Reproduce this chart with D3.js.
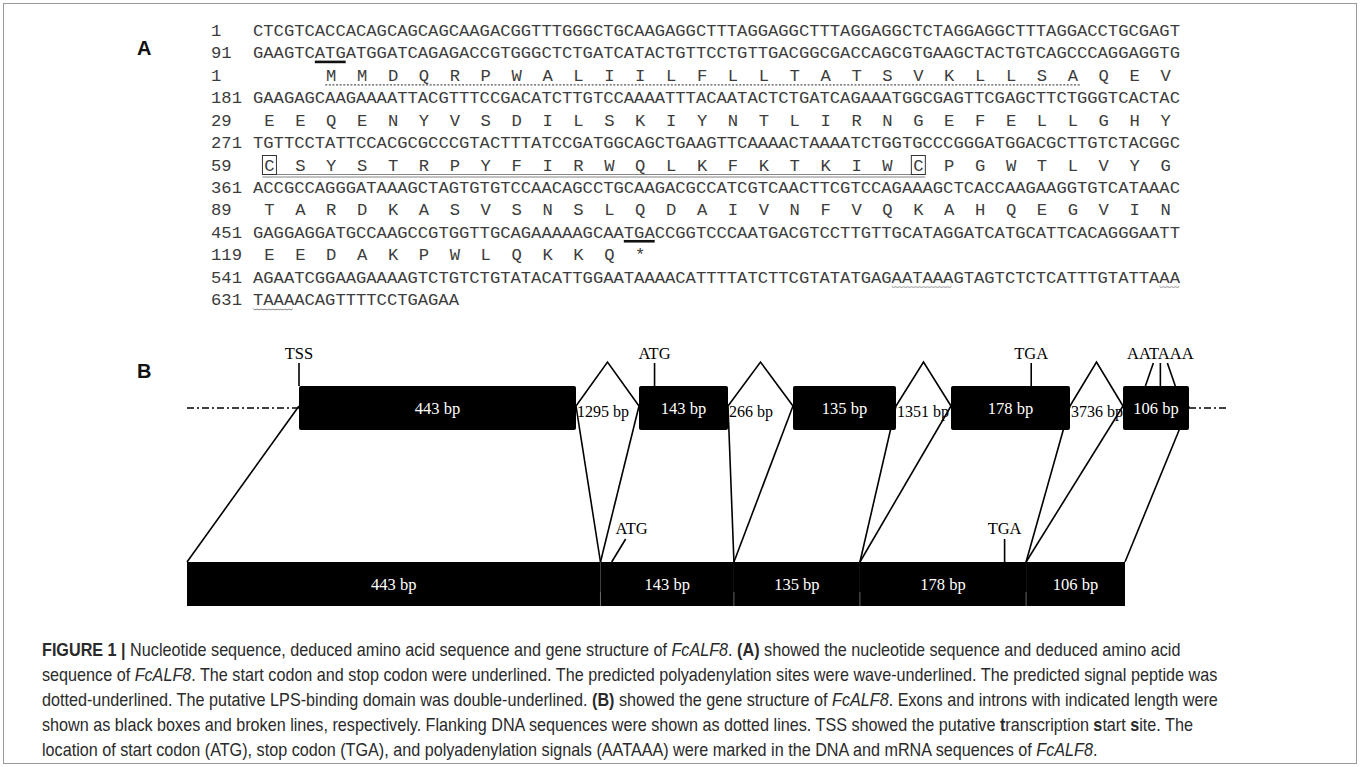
<!DOCTYPE html>
<html>
<head>
<meta charset="utf-8">
<script src="https://cdn.jsdelivr.net/npm/d3@7/dist/d3.min.js"></script>
<style>
  body { margin: 0; background: #fff; }
  svg { display: block; }
</style>
</head>
<body>
<div id="fig"></div>
<script>
// panel A: nucleotide rows
var ntStarts = [1, 91, 181, 271, 361, 451, 541, 631];
var ntSeqs = [
  "CTCGTCACCACAGCAGCAGCAAGACGGTTTGGGCTGCAAGAGGCTTTAGGAGGCTTTAGGAGGCTCTAGGAGGCTTTAGGACCTGCGAGT",
  "GAAGTCATGATGGATCAGAGACCGTGGGCTCTGATCATACTGTTCCTGTTGACGGCGACCAGCGTGAAGCTACTGTCAGCCCAGGAGGTG",
  "GAAGAGCAAGAAAATTACGTTTCCGACATCTTGTCCAAAATTTACAATACTCTGATCAGAAATGGCGAGTTCGAGCTTCTGGGTCACTAC",
  "TGTTCCTATTCCACGCGCCCGTACTTTATCCGATGGCAGCTGAAGTTCAAAACTAAAATCTGGTGCCCGGGATGGACGCTTGTCTACGGC",
  "ACCGCCAGGGATAAAGCTAGTGTGTCCAACAGCCTGCAAGACGCCATCGTCAACTTCGTCCAGAAAGCTCACCAAGAAGGTGTCATAAAC",
  "GAGGAGGATGCCAAGCCGTGGTTGCAGAAAAAGCAATGACCGGTCCCAATGACGTCCTTGTTGCATAGGATCATGCATTCACAGGGAATT",
  "AGAATCGGAAGAAAAGTCTGTCTGTATACATTGGAATAAAACATTTTATCTTCGTATATGAGAATAAAGTAGTCTCTCATTTGTATTAAA",
  "TAAAACAGTTTTCCTGAGAA"
];
// amino acid rows, the nt row each one sits under, and the codon frame
var aaStarts = [1, 29, 59, 89, 119];
var aaSeqs = [
  "MMDQRPWALIILFLLTATSVKLLSAQEV",
  "EEQENYVSDILSKIYNTLIRNGEFELLGHY",
  "CSYSTRPYFIRWQLKFKTKIWCPGWTLVYG",
  "TARDKASVSNSLQDAIVNFVQKAHQEGVIN",
  "EEDAKPWLQKKQ*"
];
var aaUnderNt = [1, 2, 3, 4, 5];
var aaFrame = [6, 0, 0, 0, 0];

// annotations
var codonMarks = [{nt: 1, at: 6, len: 3}, {nt: 5, at: 36, len: 3}];      // ATG, TGA
var polyASites = [{nt: 6, at: 62, len: 6}, {nt: 6, at: 88, len: 2}, {nt: 7, at: 0, len: 4}];
var signalPeptide = {aa: 0, from: 0, to: 24};
var lpsDomain = {aa: 2, from: 0, to: 21};

// panel B: gene structure
var exonBp = [443, 143, 135, 178, 106];
var intronBp = [1295, 266, 1351, 3736];
var topMarks = [{label: "TSS", exon: 0, bp: 0}, {label: "ATG", exon: 1, bp: 25}, {label: "TGA", exon: 3, bp: 120}];
var polyAMarkBp = [36, 60, 84];   // inside the last exon
var mrnaMarks = [{label: "ATG", bp: 455, slant: true}, {label: "TGA", bp: 876, slant: false}];

var W = 1360, H = 767;
var svg = d3.select("#fig").append("svg").attr("width", W).attr("height", H);

svg.append("rect")
  .attr("x", 3.5).attr("y", 3.5).attr("width", W - 7).attr("height", H - 7)
  .attr("fill", "none").attr("stroke", "#9a9a9a").attr("stroke-width", 1);

// ---------- panel A ----------
var mono = "'Liberation Mono', 'Courier New', monospace";
var seqX = d3.scaleLinear().domain([0, 90]).range([253, 1180]);
var rowY = d3.scaleLinear().domain([0, 12]).range([36, 305]);   // baselines

// order the rows: each nt row, followed by the aa row translating it
var lines = [];
ntSeqs.forEach(function(s, j) {
  lines.push({type: "nt", idx: j, label: ntStarts[j], text: s});
  aaUnderNt.forEach(function(n, i) {
    if (n === j) lines.push({type: "aa", idx: i, label: aaStarts[i], text: aaSeqs[i]});
  });
});
lines.forEach(function(d, i) { d.y = rowY(i); });
var ntLine = {}, aaLine = {};
lines.forEach(function(d) { (d.type === "nt" ? ntLine : aaLine)[d.idx] = d; });

function aaX(i, k) { return seqX(aaFrame[i] + 3 * k + 1.5) + 1; }

var gA = svg.append("g").attr("font-family", mono).attr("font-size", 17.2).attr("fill", "#3c3c3c");

svg.append("text").attr("x", 137).attr("y", 55)
  .attr("font-family", "'Liberation Sans', Arial, sans-serif").attr("font-weight", "bold")
  .attr("font-size", 20).attr("fill", "#111").text("A");

gA.selectAll("text.num").data(lines).enter().append("text")
  .attr("class", "num")
  .attr("x", 211).attr("y", function(d) { return d.y; })
  .text(function(d) { return d.label; });

gA.selectAll("text.nt").data(lines.filter(function(d) { return d.type === "nt"; })).enter().append("text")
  .attr("class", "nt")
  .attr("x", seqX(0)).attr("y", function(d) { return d.y; })
  .attr("textLength", function(d) { return seqX(d.text.length) - seqX(0); })
  .attr("lengthAdjust", "spacing")
  .text(function(d) { return d.text; });

lines.filter(function(d) { return d.type === "aa"; }).forEach(function(row) {
  gA.selectAll(null).data(row.text.split("")).enter().append("text")
    .attr("x", function(c, k) { return aaX(row.idx, k); })
    .attr("y", row.y)
    .attr("text-anchor", "middle")
    .text(function(c) { return c; });
});

// start / stop codons
svg.selectAll("line.codon").data(codonMarks).enter().append("line")
  .attr("x1", function(d) { return seqX(d.at); })
  .attr("x2", function(d) { return seqX(d.at + d.len); })
  .attr("y1", function(d) { return ntLine[d.nt].y + 3.5; })
  .attr("y2", function(d) { return ntLine[d.nt].y + 3.5; })
  .attr("stroke", "#111").attr("stroke-width", 2.6);

// polyadenylation sites: wavy underline
function wave(x0, x1, y) {
  var pts = [], step = 2, up = true;
  for (var x = x0; x <= x1 + 0.01; x += step) { pts.push([x, y + (up ? -1 : 1)]); up = !up; }
  return d3.line().curve(d3.curveBasis)(pts);
}
svg.selectAll("path.polyA").data(polyASites).enter().append("path")
  .attr("d", function(d) { return wave(seqX(d.at), seqX(d.at + d.len), ntLine[d.nt].y + 4.5); })
  .attr("fill", "none").attr("stroke", "#8a8a8a").attr("stroke-width", 1);

// signal peptide: dotted underline
var sp = aaLine[signalPeptide.aa];
svg.append("line")
  .attr("x1", aaX(signalPeptide.aa, signalPeptide.from) - 6)
  .attr("x2", aaX(signalPeptide.aa, signalPeptide.to) + 7)
  .attr("y1", sp.y + 4).attr("y2", sp.y + 4)
  .attr("stroke", "#555").attr("stroke-width", 1.3).attr("stroke-dasharray", "2,1.6");

// LPS-binding domain: double underline and boxed cysteines
var lp = aaLine[lpsDomain.aa];
[4, 6.5].forEach(function(dy) {
  svg.append("line")
    .attr("x1", aaX(lpsDomain.aa, lpsDomain.from) - 7)
    .attr("x2", aaX(lpsDomain.aa, lpsDomain.to) + 7)
    .attr("y1", lp.y + dy).attr("y2", lp.y + dy)
    .attr("stroke", "#777").attr("stroke-width", 0.9);
});
svg.selectAll("rect.cys").data([lpsDomain.from, lpsDomain.to]).enter().append("rect")
  .attr("x", function(k) { return aaX(lpsDomain.aa, k) - 7; })
  .attr("y", lp.y - 15).attr("width", 14).attr("height", 19)
  .attr("fill", "none").attr("stroke", "#333").attr("stroke-width", 1);

// ---------- panel B ----------
var serif = "'Liberation Serif', 'Times New Roman', serif";
var exonTop = 386, exonH = 44, junctionY = 406, apexY = 362, barTop = 562, barH = 44;

var genomic = [0];
exonBp.forEach(function(e, i) {
  genomic.push(genomic[genomic.length - 1] + e);
  if (i < intronBp.length) genomic.push(genomic[genomic.length - 1] + intronBp[i]);
});
var topX = d3.scaleLinear().domain(genomic)
  .range([299, 576, 639, 728, 793, 896, 951, 1070, 1123, 1189]);
var exons = exonBp.map(function(bp, i) {
  return {bp: bp, x0: topX(genomic[2 * i]), x1: topX(genomic[2 * i + 1])};
});

var mrnaCum = [0];
exonBp.forEach(function(e) { mrnaCum.push(mrnaCum[mrnaCum.length - 1] + e); });
var barX = d3.scaleLinear().domain([0, d3.sum(exonBp)]).range([187, 1125]);

svg.append("text").attr("x", 137).attr("y", 378)
  .attr("font-family", "'Liberation Sans', Arial, sans-serif").attr("font-weight", "bold")
  .attr("font-size", 20).attr("fill", "#111").text("B");

var gB = svg.append("g").attr("stroke", "#000").attr("stroke-width", 1.6).attr("fill", "none");

// flanking DNA
gB.append("line").attr("x1", 187).attr("x2", exons[0].x0).attr("y1", 408).attr("y2", 408)
  .attr("stroke-width", 1.3).attr("stroke-dasharray", "7,3,2,3");
gB.append("line").attr("x1", exons[4].x1).attr("x2", 1227).attr("y1", 408).attr("y2", 408)
  .attr("stroke-width", 1.3).attr("stroke-dasharray", "7,3,2,3");

// exon to mRNA connectors
exons.forEach(function(e, i) {
  gB.append("line").attr("x1", e.x0).attr("y1", junctionY).attr("x2", barX(mrnaCum[i])).attr("y2", barTop);
  gB.append("line").attr("x1", e.x1).attr("y1", junctionY).attr("x2", barX(mrnaCum[i + 1])).attr("y2", barTop);
});

// introns
intronBp.forEach(function(bp, i) {
  var a = exons[i].x1, b = exons[i + 1].x0;
  gB.append("path").attr("d", d3.line()([[a, junctionY], [(a + b) / 2, apexY], [b, junctionY]]));
});

// exon boxes
svg.selectAll("rect.exon").data(exons).enter().append("rect")
  .attr("x", function(d) { return d.x0; }).attr("y", exonTop)
  .attr("width", function(d) { return d.x1 - d.x0; }).attr("height", exonH)
  .attr("rx", 2).attr("fill", "#000");
svg.selectAll("text.exon").data(exons).enter().append("text")
  .attr("x", function(d) { return (d.x0 + d.x1) / 2; }).attr("y", exonTop + exonH / 2 + 6)
  .attr("text-anchor", "middle").attr("font-family", serif).attr("font-size", 16.5).attr("fill", "#fff")
  .text(function(d) { return d.bp + " bp"; });

// intron lengths
svg.selectAll("text.intron").data(intronBp).enter().append("text")
  .attr("x", function(d, i) { return exons[i].x1 + 1; }).attr("y", 417)
  .attr("font-family", serif).attr("font-size", 16).attr("fill", "#000")
  .text(function(d) { return d + " bp"; });

// markers above the gene
topMarks.forEach(function(m) {
  var x = topX(genomic[2 * m.exon] + m.bp);
  gB.append("line").attr("x1", x).attr("x2", x).attr("y1", 363).attr("y2", exonTop);
  svg.append("text").attr("x", x).attr("y", 359).attr("text-anchor", "middle")
    .attr("font-family", serif).attr("font-size", 16.5).attr("fill", "#000").text(m.label);
});
var paX = polyAMarkBp.map(function(bp) { return topX(genomic[8] + bp); });
var paMid = paX[1];
paX.forEach(function(x, i) {
  gB.append("line").attr("x1", paMid + (i - 1) * 7).attr("y1", 363).attr("x2", x).attr("y2", exonTop);
});
svg.append("text").attr("x", paMid).attr("y", 359).attr("text-anchor", "middle")
  .attr("font-family", serif).attr("font-size", 16.5).attr("fill", "#000").text("AATAAA");

// mRNA bar
svg.selectAll("rect.mrna").data(exonBp).enter().append("rect")
  .attr("x", function(d, i) { return barX(mrnaCum[i]); }).attr("y", barTop)
  .attr("width", function(d, i) { return barX(mrnaCum[i + 1]) - barX(mrnaCum[i]); })
  .attr("height", barH).attr("fill", "#000");
svg.selectAll("line.sep").data(mrnaCum.slice(1, -1)).enter().append("line")
  .attr("x1", function(d) { return barX(d); }).attr("x2", function(d) { return barX(d); })
  .attr("y1", barTop + barH - 14).attr("y2", barTop + barH)
  .attr("stroke", "#777").attr("stroke-width", 0.8);
svg.selectAll("text.mrna").data(exonBp).enter().append("text")
  .attr("x", function(d, i) { return (barX(mrnaCum[i]) + barX(mrnaCum[i + 1])) / 2; })
  .attr("y", barTop + barH / 2 + 6).attr("text-anchor", "middle")
  .attr("font-family", serif).attr("font-size", 16.5).attr("fill", "#fff")
  .text(function(d) { return d + " bp"; });

mrnaMarks.forEach(function(m) {
  var x = barX(m.bp);
  var tx = m.slant ? x + 14 : x;
  gB.append("line").attr("x1", x).attr("y1", barTop).attr("x2", tx).attr("y2", barTop - 23);
  svg.append("text").attr("x", tx + (m.slant ? 6 : 0)).attr("y", barTop - 28).attr("text-anchor", "middle")
    .attr("font-family", serif).attr("font-size", 16.5).attr("fill", "#000").text(m.label);
});

// ---------- caption ----------
var captionLines = [
  [["b", "FIGURE 1 |"], ["", " Nucleotide sequence, deduced amino acid sequence and gene structure of "], ["i", "FcALF8"], ["", ". "], ["b", "(A)"], ["", " showed the nucleotide sequence and deduced amino acid"]],
  [["", "sequence of "], ["i", "FcALF8"], ["", ". The start codon and stop codon were underlined. The predicted polyadenylation sites were wave-underlined. The predicted signal peptide was"]],
  [["", "dotted-underlined. The putative LPS-binding domain was double-underlined. "], ["b", "(B)"], ["", " showed the gene structure of "], ["i", "FcALF8"], ["", ". Exons and introns with indicated length were"]],
  [["", "shown as black boxes and broken lines, respectively. Flanking DNA sequences were shown as dotted lines. TSS showed the putative "], ["b", "t"], ["", "ranscription "], ["b", "s"], ["", "tart "], ["b", "s"], ["", "ite. The"]],
  [["", "location of start codon (ATG), stop codon (TGA), and polyadenylation signals (AATAAA) were marked in the DNA and mRNA sequences of "], ["i", "FcALF8"], ["", "."]]
];
var capY = d3.scaleLinear().domain([0, 4]).range([656, 756]);
// the caption face is a condensed sans, so squeeze a regular one sideways
var cap = svg.append("g")
  .attr("transform", "translate(42,0) scale(0.925,1)")
  .attr("font-family", "'Liberation Sans', Arial, sans-serif")
  .attr("font-size", 17.5).attr("fill", "#2a2a2a");
captionLines.forEach(function(parts, i) {
  var t = cap.append("text").attr("x", 0).attr("y", capY(i));
  parts.forEach(function(p) {
    t.append("tspan")
      .attr("font-weight", p[0] === "b" ? "bold" : null)
      .attr("font-style", p[0] === "i" ? "italic" : null)
      .text(p[1]);
  });
});
</script>
</body>
</html>
